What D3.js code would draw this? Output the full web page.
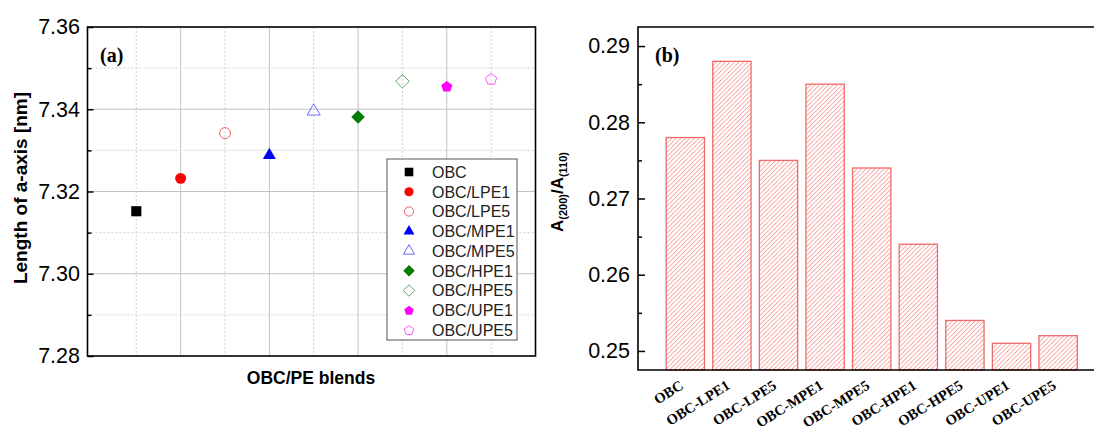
<!DOCTYPE html>
<html>
<head>
    <meta charset="utf-8">
    <title>OBC/PE blends</title>
    <script type="text/javascript" src="https://d3js.org/d3.v7.min.js"></script>
    <style>
        body { margin: 0; background: white; }
        .canvas { width: 1094px; height: 430px; display: block; font-family: "Liberation Sans", Arial, sans-serif; }
    </style>
</head>
<body>
    <svg class="canvas"></svg>
    <script type="text/javascript">
        // panel (a): a-axis length per blend
        const blends = ["OBC", "OBC/LPE1", "OBC/LPE5", "OBC/MPE1", "OBC/MPE5", "OBC/HPE1", "OBC/HPE5", "OBC/UPE1", "OBC/UPE5"]
        const aLength = [7.3152, 7.3232, 7.3342, 7.3288, 7.3395, 7.3381, 7.3468, 7.3456, 7.3474]
        const aTicks = [7.28, 7.30, 7.32, 7.34, 7.36]
        const aMinor = [7.29, 7.31, 7.33, 7.35]

        // panel (b): peak area ratio
        const barNames = ["OBC", "OBC-LPE1", "OBC-LPE5", "OBC-MPE1", "OBC-MPE5", "OBC-HPE1", "OBC-HPE5", "OBC-UPE1", "OBC-UPE5"]
        const ratio = [0.278, 0.288, 0.275, 0.285, 0.274, 0.264, 0.254, 0.251, 0.252]
        const rTicks = [0.25, 0.26, 0.27, 0.28, 0.29]
        const rMinor = [0.255, 0.265, 0.275, 0.285]

        // marker styles for each blend
        const shapes = ["square", "circle", "circle", "triangle", "triangle", "diamond", "diamond", "pentagon", "pentagon"]
        const colors = ["#000000", "#ff0000", "#f06060", "#0000ff", "#6a6aff", "#007a00", "#5fa85f", "#ff00ff", "#ff55ff"]
        const filled = [true, true, false, true, false, true, false, true, false]

        const svg = d3.select('.canvas')
        const serif = '"Liberation Serif", "Times New Roman", serif'

        // s = rough overall width of the marker
        function markerPath(shape, s) {
            const poly = pts => "M" + pts.map(p => p.join(",")).join("L") + "Z"
            if (shape === "square") { const h = s * 0.39; return poly([[-h, -h], [h, -h], [h, h], [-h, h]]) }
            if (shape === "circle") return d3.symbol().type(d3.symbolCircle).size(Math.PI * (s * 0.42) ** 2)()
            if (shape === "diamond") { const h = s * 0.52; return poly([[0, -h], [h, 0], [0, h], [-h, 0]]) }
            if (shape === "triangle") {
                const hh = s * Math.sqrt(3) / 2
                return poly([[0, -hh * 2 / 3], [s / 2, hh / 3], [-s / 2, hh / 3]])
            }
            const r = s * 0.45
            return poly(d3.range(5).map(i => {
                const a = -Math.PI / 2 + i * 2 * Math.PI / 5
                return [r * Math.cos(a), r * Math.sin(a) + r * 0.1]
            }))
        }

        // ---------- panel (a) ----------
        const xa = d3.scaleLinear().domain([-0.1, 10]).range([87.5, 535.5])
        const ya = d3.scaleLinear().domain([7.28, 7.36]).range([356, 27])

        const ga = svg.append('g')

        // grid
        ga.selectAll('.vmaj').data([2, 4, 6, 8]).enter().append('line')
            .attr('x1', d => xa(d)).attr('x2', d => xa(d)).attr('y1', 27).attr('y2', 356)
            .attr('stroke', '#c2c2c2').attr('stroke-width', 1)
        ga.selectAll('.vmin').data([1, 3, 5, 7, 9]).enter().append('line')
            .attr('x1', d => xa(d)).attr('x2', d => xa(d)).attr('y1', 27).attr('y2', 356)
            .attr('stroke', '#d2d2d2').attr('stroke-width', 1).attr('stroke-dasharray', '2,2')
        ga.selectAll('.hmaj').data(aTicks.slice(1, -1)).enter().append('line')
            .attr('x1', xa(-0.1)).attr('x2', xa(10)).attr('y1', d => ya(d)).attr('y2', d => ya(d))
            .attr('stroke', '#c2c2c2').attr('stroke-width', 1)
        ga.selectAll('.hmin').data(aMinor).enter().append('line')
            .attr('x1', xa(-0.1)).attr('x2', xa(10)).attr('y1', d => ya(d)).attr('y2', d => ya(d))
            .attr('stroke', '#d2d2d2').attr('stroke-width', 1).attr('stroke-dasharray', '2,2')

        // axis + frame
        ga.append('g').attr('transform', `translate(${xa(-0.1)},0)`)
            .call(d3.axisLeft(ya).tickValues(aTicks).tickSize(-6).tickPadding(7.5).tickFormat(d3.format('.2f')))
            .call(g => g.select('.domain').remove())
            .call(g => g.selectAll('text').attr('font-size', 21.5).attr('fill', '#000').attr('font-family', '"Liberation Sans", Arial, sans-serif'))
            .call(g => g.selectAll('line').attr('stroke-width', 1.5))
        ga.append('g').attr('transform', `translate(${xa(-0.1)},0)`)
            .call(d3.axisLeft(ya).tickValues(aMinor).tickSize(-4).tickFormat(''))
            .call(g => g.select('.domain').remove())
            .call(g => g.selectAll('line').attr('stroke-width', 1.5))
        ga.append('rect').attr('x', xa(-0.1)).attr('y', 27).attr('width', xa(10) - xa(-0.1)).attr('height', 329)
            .attr('fill', 'none').attr('stroke', '#000').attr('stroke-width', 1.6)

        // points
        ga.selectAll('.pt').data(aLength).enter().append('path')
            .attr('transform', (d, i) => `translate(${xa(i + 1)},${ya(d)})`)
            .attr('d', (d, i) => markerPath(shapes[i], 13))
            .attr('fill', (d, i) => filled[i] ? colors[i] : 'none')
            .attr('stroke', (d, i) => colors[i])
            .attr('stroke-width', (d, i) => filled[i] ? 0 : 1)

        // legend
        const lg = ga.append('g')
        lg.append('rect').attr('x', 387).attr('y', 159).attr('width', 130).attr('height', 181)
            .attr('fill', 'white').attr('stroke', '#555').attr('stroke-width', 1)
        blends.forEach((name, i) => {
            const yy = 172 + i * 19.75
            lg.append('path').attr('transform', `translate(409,${yy})`)
                .attr('d', markerPath(shapes[i], 11))
                .attr('fill', filled[i] ? colors[i] : 'none')
                .attr('stroke', colors[i]).attr('stroke-width', filled[i] ? 0 : 1)
            lg.append('text').attr('x', 432).attr('y', yy).attr('dy', '0.36em')
                .attr('font-size', 16).attr('fill', '#222').text(name)
        })

        ga.append('text').attr('x', 100).attr('y', 62).attr('font-family', serif)
            .attr('font-weight', 'bold').attr('font-size', 20).text('(a)')
        ga.append('text').attr('x', 311).attr('y', 384).attr('text-anchor', 'middle')
            .attr('font-weight', 'bold').attr('font-size', 17.5).text('OBC/PE blends')
        ga.append('text').attr('transform', 'translate(27,188) rotate(-90)').attr('text-anchor', 'middle')
            .attr('font-weight', 'bold').attr('font-size', 19).text('Length of a-axis [nm]')

        // ---------- panel (b) ----------
        const xb = d3.scaleBand().domain(barNames).range([662, 1081.4]).paddingInner(0.178).paddingOuter(0.089)
        const yb = d3.scaleLinear().domain([0.2475, 0.2925]).range([370, 27])
        const axB = 638

        const gb = svg.append('g')
        const pat = svg.append('defs').append('pattern').attr('id', 'hatch')
            .attr('patternUnits', 'userSpaceOnUse').attr('width', 4.5).attr('height', 4.5)
        pat.append('rect').attr('width', 4.5).attr('height', 4.5).attr('fill', 'white')
        pat.append('path').attr('d', 'M0,4.5 L4.5,0 M-1,1 L1,-1 M3.5,5.5 L5.5,3.5')
            .attr('stroke', '#f28080').attr('stroke-width', 0.9)

        gb.selectAll('.bar').data(ratio).enter().append('rect')
            .attr('x', (d, i) => xb(barNames[i]))
            .attr('width', xb.bandwidth())
            .attr('y', d => yb(d))
            .attr('height', d => 370 - yb(d))
            .attr('fill', 'url(#hatch)')
            .attr('stroke', '#f06a6a').attr('stroke-width', 1.3)

        gb.append('g').attr('transform', `translate(${axB},0)`)
            .call(d3.axisLeft(yb).tickValues(rTicks).tickSize(-7).tickPadding(8).tickFormat(d3.format('.2f')))
            .call(g => g.select('.domain').remove())
            .call(g => g.selectAll('text').attr('font-size', 21.5).attr('fill', '#000').attr('font-family', '"Liberation Sans", Arial, sans-serif'))
            .call(g => g.selectAll('line').attr('stroke-width', 1.5))
        gb.append('g').attr('transform', `translate(${axB},0)`)
            .call(d3.axisLeft(yb).tickValues(rMinor).tickSize(-4).tickFormat(''))
            .call(g => g.select('.domain').remove())
            .call(g => g.selectAll('line').attr('stroke-width', 1.5))
        gb.append('path').attr('d', `M1094,27 H${axB} V370 H1094`)
            .attr('fill', 'none').attr('stroke', '#000').attr('stroke-width', 1.6)

        gb.selectAll('.xl').data(barNames).enter().append('text')
            .attr('transform', d => `translate(${xb(d) + xb.bandwidth() / 2 - 1},388) rotate(-32)`)
            .attr('text-anchor', 'end')
            .attr('font-family', serif)
            .attr('font-weight', 'bold').attr('font-size', 14.5).text(d => d)

        gb.append('text').attr('x', 655).attr('y', 62).attr('font-family', serif)
            .attr('font-weight', 'bold').attr('font-size', 20).text('(b)')

        const yt = gb.append('text').attr('transform', 'translate(563,192) rotate(-90)').attr('text-anchor', 'middle')
            .attr('font-weight', 'bold').attr('font-size', 17)
        yt.append('tspan').text('A')
        yt.append('tspan').attr('font-size', 11).attr('dy', 4).text('(200)')
        yt.append('tspan').attr('dy', -4).text('/A')
        yt.append('tspan').attr('font-size', 11).attr('dy', 4).text('(110)')
    </script>
</body>
</html>
